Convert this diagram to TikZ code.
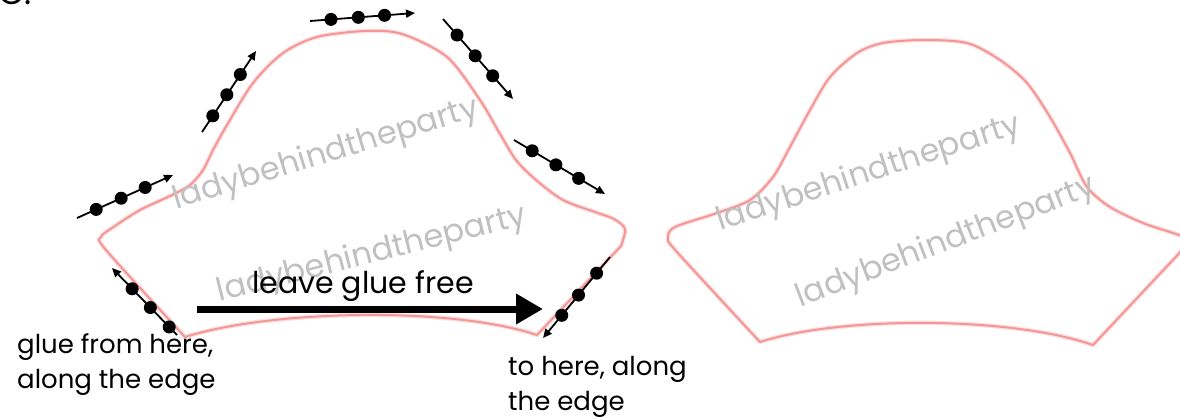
\documentclass[tikz,border=0pt]{standalone}
\usepackage{fontspec}
\setmainfont{Poppins}
\usetikzlibrary{arrows.meta}
\definecolor{edgepink}{RGB}{245,150,150}
\definecolor{markgray}{RGB}{192,192,192}

\begin{document}
\begin{tikzpicture}[x=1pt, y=-1pt, >={Triangle[length=9pt,width=8pt]},
  outline/.style={draw=edgepink, line width=2pt, line join=round,
    preaction={draw=edgepink!30, line width=4.5pt}},
  gluearr/.style={->, line width=1.8pt},
  dot/.style={circle, fill=black, inner sep=0pt, minimum size=13pt},
  lbl/.style={font=\fontsize{26}{35}\selectfont, inner sep=0pt, align=left},
  wmark/.style={text=markgray, font=\fontsize{32}{32}\selectfont, inner sep=0pt},
  freearr/.style={line width=7pt, -{Triangle[length=27pt,width=29pt]}}
]
  \clip (0,0) rectangle (1180,418);

  \draw[outline] (537,335) .. controls (450,306) and (270,310) .. (185,337)
    -- plot[smooth, tension=0.5] coordinates {(185,337) (106,250) (101,237) (112,228)
      (140,210) (170,196) (190,185) (203,170) (213,150) (227,125) (253,83) (283,53)
      (317,37) (365,31) (402,34) (447,57) (480,100) (500,134) (516,160) (536,180)
      (563,200) (595,212) (614,219) (625,229) (621,246)} -- cycle;
  \draw[outline] (1093,345) .. controls (1010,316) and (840,316) .. (760,342)
    -- plot[smooth, tension=0.5] coordinates {(760,342) (677,252) (668,238) (675,227)
      (717,213) (750,200) (773,177) (790,147) (810,110) (830,77) (857,53) (883,43)
      (923,40) (967,43) (1000,60) (1027,83) (1050,117) (1070,153) (1087,187)
      (1110,207) (1143,223) (1173,233) (1183,237) (1186,246)} -- cycle;

  \node[wmark, rotate=17] (w1) at (326,155) {ladybehindtheparty};
  \node[wmark, rotate=14] (w2) at (372,255) {ladybehindtheparty};
  \node[wmark, rotate=18] (w3) at (869,174) {ladybehindtheparty};
  \node[wmark, rotate=21] (w4) at (946,243) {ladybehindtheparty};

  \node[anchor=base west, inner sep=0pt, font=\fontsize{34}{34}\selectfont] (c) at (-2,4) {C.};
  \node[lbl, font=\fontsize{30}{35}\selectfont, anchor=base west] (free) at (252,293) {leave glue free};
  \node[lbl, anchor=north west] (from) at (17,333) {glue from here,\\along the edge};
  \node[lbl, anchor=north west] (to) at (508,356) {to here, along\\the edge};

  \coordinate (s1) at (77,218);   \coordinate (e1) at (173,175);
  \coordinate (s2) at (202,132);  \coordinate (e2) at (256,51);
  \coordinate (s3) at (310,21);   \coordinate (e3) at (415,13);
  \coordinate (s4) at (443,19);   \coordinate (e4) at (513,99);
  \coordinate (s5) at (514,140);  \coordinate (e5) at (605,194);
  \coordinate (s6) at (177,335);  \coordinate (e6) at (112,268);
  \coordinate (s7) at (610,257);  \coordinate (e7) at (543,338);
  \draw[gluearr] (s1) -- node[dot, pos=0.2]{} node[dot, pos=0.46]{} node[dot, pos=0.71]{} (e1);
  \draw[gluearr] (s2) -- node[dot, pos=0.2]{} node[dot, pos=0.46]{} node[dot, pos=0.71]{} (e2);
  \draw[gluearr] (s3) -- node[dot, pos=0.2]{} node[dot, pos=0.46]{} node[dot, pos=0.71]{} (e3);
  \draw[gluearr] (s4) -- node[dot, pos=0.2]{} node[dot, pos=0.46]{} node[dot, pos=0.71]{} (e4);
  \draw[gluearr] (s5) -- node[dot, pos=0.2]{} node[dot, pos=0.46]{} node[dot, pos=0.71]{} (e5);
  \draw[gluearr] (s6) -- node[dot, pos=0.12]{} node[dot, pos=0.41]{} node[dot, pos=0.69]{} (e6);
  \draw[gluearr] (s7) -- node[dot, pos=0.2]{} node[dot, pos=0.47]{} node[dot, pos=0.72]{} (e7);

  \coordinate (fs) at (197,309);  \coordinate (fe) at (543,309);
  \draw[freearr] (fs) -- (fe);
\end{tikzpicture}
\end{document}
